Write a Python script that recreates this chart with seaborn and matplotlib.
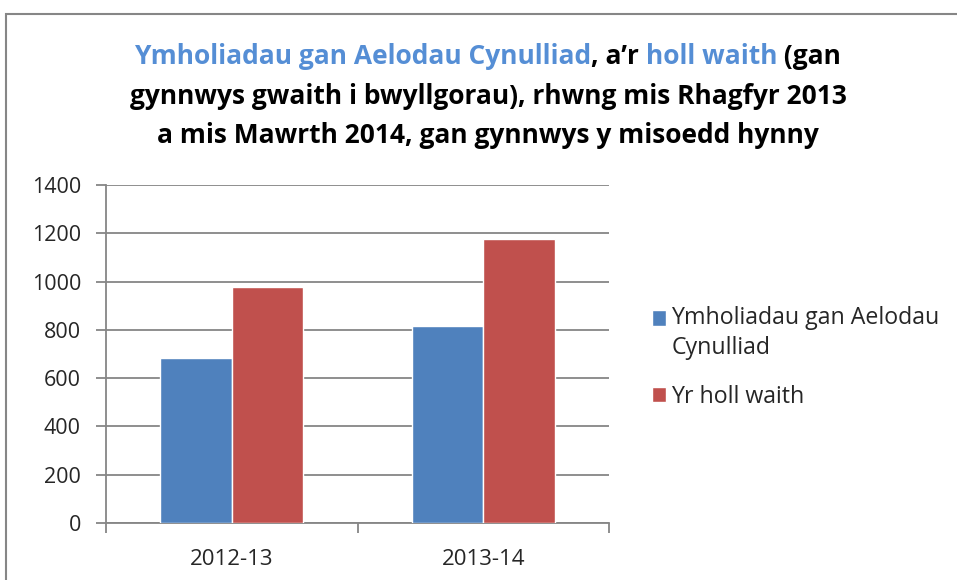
import matplotlib
matplotlib.use("Agg")
import matplotlib.pyplot as plt
import matplotlib.patches as mpatches
from matplotlib.ticker import FixedLocator
import pandas as pd
import seaborn as sns

# data
years = ["2012-13", "2013-14"]
series = ["Ymholiadau gan Aelodau\nCynulliad", "Yr holl waith"]
questions = [684, 815]
all_work = [976, 1177]
colours = ["#4F81BD", "#C0504D"]

df = pd.DataFrame({
    "year": years * 2,
    "series": [series[0]] * len(years) + [series[1]] * len(years),
    "value": questions + all_work,
})

sns.set_style("white")
plt.rcParams["font.family"] = ["Open Sans", "DejaVu Sans"]

W, H = 957, 580
fig = plt.figure(figsize=(W / 100, H / 100), dpi=100)
ax = fig.add_axes([106 / W, 1 - 523 / H, (609 - 106) / W, (523 - 185) / H])

sns.barplot(data=df, x="year", y="value", hue="series", palette=colours,
            width=0.57, gap=0, saturation=1, ax=ax, zorder=3)

grey = "#868686"
ax.set_ylim(0, 1400)
ax.set_yticks(range(0, 1401, 200))
ax.set_xlim(-0.5, 1.5)
ax.yaxis.grid(True, color=grey, linewidth=1.3, zorder=0)
ax.set_axisbelow(True)
for s in ["top", "right"]:
    ax.spines[s].set_visible(False)
for s in ["left", "bottom"]:
    ax.spines[s].set_color(grey)
    ax.spines[s].set_linewidth(1.3)
ax.tick_params(axis="y", direction="out", length=7, color=grey, width=1.3,
               labelsize=15.5, pad=11, left=True)
ax.tick_params(axis="x", which="major", length=0, labelsize=16, pad=19)
ax.xaxis.set_minor_locator(FixedLocator([-0.5, 0.5, 1.5]))
ax.tick_params(axis="x", which="minor", direction="out", length=7, color=grey,
               width=1.3, bottom=True)
ax.set_xlabel("")
ax.set_ylabel("")

leg = ax.legend(loc="upper left", bbox_to_anchor=(652 / W, 1 - 306 / H),
                bbox_transform=fig.transFigure, frameon=False, fontsize=16.7,
                handlelength=0.62, handleheight=0.62, handletextpad=0.22,
                labelspacing=1.05, borderaxespad=0, borderpad=0)
for t in leg.get_texts():
    t.set_linespacing(1.35)
# put the first square level with the first line of its two-line label
h0 = leg.legend_handles[0]
h0.set_y(h0.get_y() + 11.5)

# outer chart border
fig.patches.append(mpatches.Rectangle((6 / W, -0.1), 1.1, 1 - 14 / H + 0.1,
                                      transform=fig.transFigure, fill=False,
                                      edgecolor=grey, linewidth=1.5))

# title with mixed colours
blue_t = "#558ED5"
lines = [
    [("Ymholiadau gan Aelodau Cynulliad", blue_t), (", a\u2019r ", "black"),
     ("holl waith", blue_t), (" (gan", "black")],
    [("gynnwys gwaith i bwyllgorau), rhwng mis Rhagfyr 2013", "black")],
    [("a mis Mawrth 2014, gan gynnwys y misoedd hynny", "black")],
]
baselines = [64, 104, 143]
renderer = fig.canvas.get_renderer()
cx = 488
for parts, yb in zip(lines, baselines):
    texts = []
    for s, c in parts:
        t = fig.text(0, 1 - yb / H, s, color=c, fontsize=19, fontweight="bold",
                     va="baseline", ha="left")
        texts.append(t)
    widths = [t.get_window_extent(renderer).width for t in texts]
    x = cx - sum(widths) / 2
    for t, w in zip(texts, widths):
        t.set_x(x / W)
        x += w

fig.savefig("out.png", dpi=100)
